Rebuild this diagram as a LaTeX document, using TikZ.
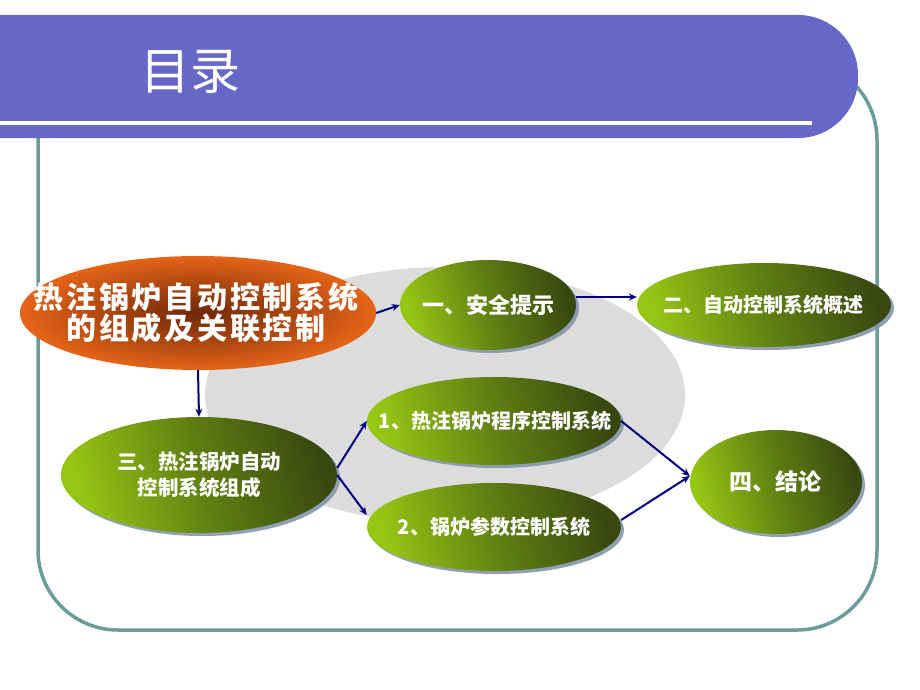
\documentclass[tikz,border=0pt]{standalone}
\usepackage{fontspec}
\newfontfamily\cjk{Noto Sans CJK SC}
\usetikzlibrary{arrows.meta}
\usetikzlibrary{shapes.geometric}
\usetikzlibrary{shadows}
\usetikzlibrary{positioning}

\definecolor{barblue}{RGB}{103,103,200}
\definecolor{frameteal}{RGB}{106,156,156}
\definecolor{backgray}{RGB}{220,220,220}
\definecolor{linknavy}{RGB}{0,0,128}
\definecolor{glight}{RGB}{150,198,20}
\definecolor{gmid}{RGB}{96,128,18}
\definecolor{gdark}{RGB}{58,72,16}
\definecolor{orlight}{RGB}{230,100,24}
\definecolor{ordark}{RGB}{110,40,8}
\definecolor{shadowc}{RGB}{130,150,168}

\tikzset{
  topic/.style={ellipse, inner sep=0pt,
    left color=glight, right color=gdark, middle color=gmid, shading angle=105,
    drop shadow={shadow xshift=3pt, shadow yshift=-3pt, fill=shadowc, opacity=.9}},
  topictext/.style={text=white, align=center, inner sep=0pt},
  maintopic/.style={ellipse, inner sep=0pt, inner color=ordark, outer color=orlight},
  link/.style={->, draw=linknavy, line width=2pt}
}

\begin{document}
\begin{tikzpicture}[>={Stealth[length=8pt,width=7pt]}, x=1pt, y=-1pt]

    \useasboundingbox (0,0) rectangle (920,690);

    \draw[frameteal, line width=3.5pt, rounded corners=80pt] (38,60) rectangle (877,630);
    \fill[backgray] (445,395) ellipse [x radius=240, y radius=128];

    % title bar
    \fill[barblue] (0,15) [rounded corners=60pt] -- (858,15) -- (858,138) [sharp corners] -- (0,138) -- cycle;
    \fill[white] (0,121) rectangle (812,125);
    \node[text=white, font=\cjk\fontsize{50}{50}\selectfont] (title) at (190,72) {目录};

    \node[maintopic, minimum width=356pt, minimum height=114pt] (hub) at (198,313) {};
    \node[topictext, font=\cjk\bfseries\fontsize{30}{31}\selectfont\addfontfeature{LetterSpace=9}]
        (hub-t) at (196,313) {热注锅炉自动控制系统\\的组成及关联控制};

    \node[topic, minimum width=176pt, minimum height=90pt] (safe) at (488,305) {};
    \node[topictext, font=\cjk\bfseries\fontsize{22}{22}\selectfont] (safe-t) at (488,305) {一、安全提示};

    \node[topic, minimum width=254pt, minimum height=84pt] (overview) at (764,305) {};
    \node[topictext, font=\cjk\bfseries\fontsize{20}{20}\selectfont] (overview-t) at (763,305) {二、自动控制系统概述};

    \node[topic, minimum width=276pt, minimum height=116pt] (parts) at (199,475) {};
    \node[topictext, font=\cjk\bfseries\fontsize{20.5}{26}\selectfont] (parts-t) at (199,475) {三、热注锅炉自动\\控制系统组成};

    \node[topic, minimum width=254pt, minimum height=88pt] (program) at (494,421) {};
    \node[topictext, font=\cjk\bfseries\fontsize{20}{20}\selectfont] (program-t) at (495,421) {1、热注锅炉程序控制系统};

    \node[topic, minimum width=254pt, minimum height=88pt] (param) at (494,527) {};
    \node[topictext, font=\cjk\bfseries\fontsize{20}{20}\selectfont] (param-t) at (494,527) {2、锅炉参数控制系统};

    \node[topic, minimum width=172pt, minimum height=104pt] (result) at (776,482) {};
    \node[topictext, font=\cjk\bfseries\fontsize{23}{23}\selectfont] (result-t) at (775,482) {四、结论};

    \draw[link] (hub.east) -- (safe.west);
    \draw[link] (safe.east |- 0,297) -- (overview.west |- 0,297);
    \draw[link] (hub.south) -- (parts.north);
    \draw[link] (parts.east |- 0,468) -- (program.west);
    \draw[link] (parts.east |- 0,475) -- (param.west |- 0,515);
    \draw[link] (program.east) -- (result.west |- 0,476);
    \draw[link] (param.east |- 0,520) -- (result.west |- 0,476);

\end{tikzpicture}
\end{document}
